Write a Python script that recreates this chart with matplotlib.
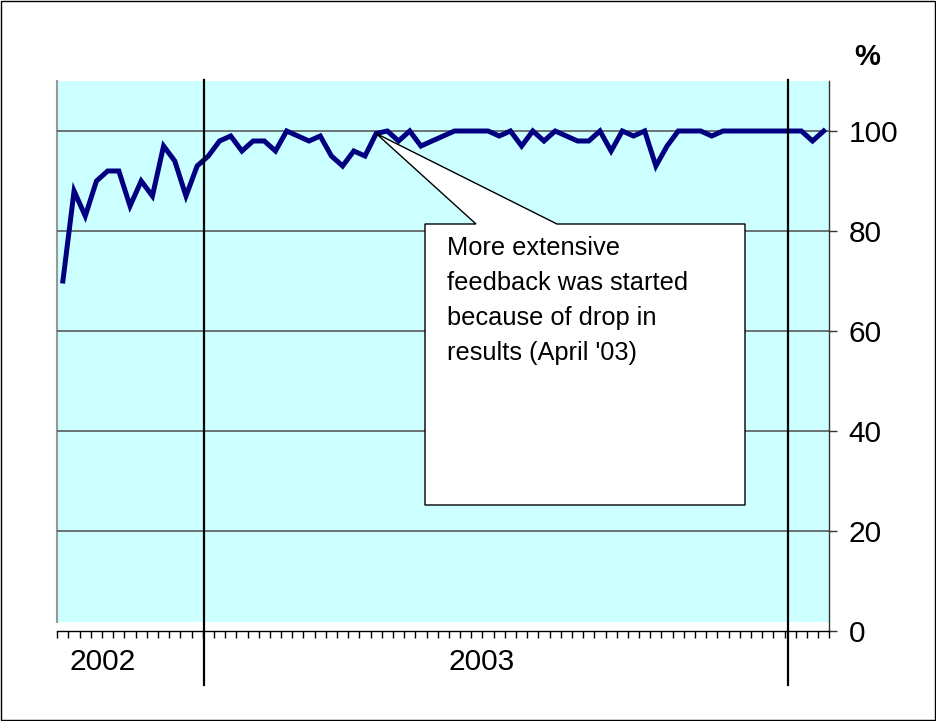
import matplotlib
matplotlib.use("Agg")
import matplotlib.pyplot as plt
from matplotlib.patches import Polygon, Rectangle

plt.rcParams['font.family'] = ['Liberation Sans', 'DejaVu Sans']

# weekly results (%), 13 weeks of 2002, 52 weeks of 2003, 4 weeks of 2004
values = [70, 88, 83, 90, 92, 92, 85, 90, 87, 97, 94, 87, 93,
          95, 98, 99, 96, 98, 98, 96, 100, 99, 98, 99, 95, 93, 96, 95, 99.5, 100,
          98, 100, 97, 98, 99, 100, 100, 100, 100, 99, 100, 97, 100, 98, 100, 99,
          98, 98, 100, 96, 100, 99, 100, 93, 97, 100, 100, 100, 99, 100, 100, 100,
          100, 100, 100,
          100, 100, 98, 100]
year_labels = ["2002", "2003"]
year_label_pos = [3.55, 37.4]
year_boundaries = [12.6, 64.8]
y_ticks = [0, 20, 40, 60, 80, 100]
annotation = "More extensive\nfeedback was started\nbecause of drop in\nresults (April '03)"
annot_index = 28

W, H = 937, 721
fig = plt.figure(figsize=(W / 100, H / 100), dpi=100)

def fx(x):
    return x / W

def fy(y):
    return 1 - y / H

ax_left, ax_right, ax_bottom_px, ax_top_px = 57.3, 829.3, 631, 81
ax = fig.add_axes([fx(ax_left), fy(ax_bottom_px), fx(ax_right - ax_left),
                   (ax_bottom_px - ax_top_px) / H])
ax.set_facecolor('none')
n = len(values)
x = list(range(n))
ax.set_xlim(-0.5, n - 0.5)
ax.set_ylim(0, 110)

# cyan plot area
ax.add_patch(Rectangle((-0.5, 1.8), n, 110 - 1.8, facecolor='#CCFFFF',
                       edgecolor='none', zorder=0))
# left gray edge
ax.plot([-0.5, -0.5], [1.8, 110], color='#999999', lw=1.5, zorder=1, clip_on=False)

for t in y_ticks[1:]:
    ax.axhline(t, color='#5a5a5a', lw=1.2, zorder=1)

ax.plot(x, values, color='#000080', lw=3.6, zorder=3, solid_joinstyle='miter')

for b in year_boundaries:
    ax.plot([b, b], [-10.8, 110.2], color='black', lw=1.6, zorder=4, clip_on=False)

for s in ['top', 'left']:
    ax.spines[s].set_visible(False)
ax.spines['right'].set_color('#333333')
ax.spines['right'].set_linewidth(1.0)
ax.spines['bottom'].set_color('black')
ax.spines['bottom'].set_linewidth(1.0)

ax.yaxis.tick_right()
ax.set_yticks(y_ticks)
ax.set_yticklabels([str(v) for v in y_ticks], fontsize=21.5)
ax.tick_params(axis='y', direction='out', length=6, width=1, color='#333333', pad=8)

ax.set_xticks([i - 0.5 for i in range(n + 1)])
ax.set_xticklabels([])
ax.tick_params(axis='x', direction='out', length=5, width=1, color='black')

for lab, pos in zip(year_labels, year_label_pos):
    ax.text(pos, -6.2, lab, ha='center', va='center', fontsize=21.5)

fig.text(fx(867), fy(57), "%", ha='center', va='center', fontsize=21, fontweight='bold')

# callout
tip_disp = ax.transData.transform((annot_index, values[annot_index]))
tip_fig = fig.transFigure.inverted().transform(tip_disp)
pts = [(fx(425), fy(224)), (fx(476), fy(224)), tuple(tip_fig), (fx(557), fy(224)),
       (fx(745), fy(224)), (fx(745), fy(505)), (fx(425), fy(505))]
fig.add_artist(Polygon(pts, closed=True, facecolor='white', edgecolor='black',
                       lw=1.0, transform=fig.transFigure, zorder=5))
fig.text(fx(447), fy(236), annotation, ha='left', va='top', fontsize=18.3,
         linespacing=1.58, zorder=6)

# outer border
fig.add_artist(Rectangle((0.001, 0.001), 0.997, 0.997, transform=fig.transFigure,
                         facecolor='none', edgecolor='black', lw=1.0))

fig.savefig("out.png", dpi=100)
